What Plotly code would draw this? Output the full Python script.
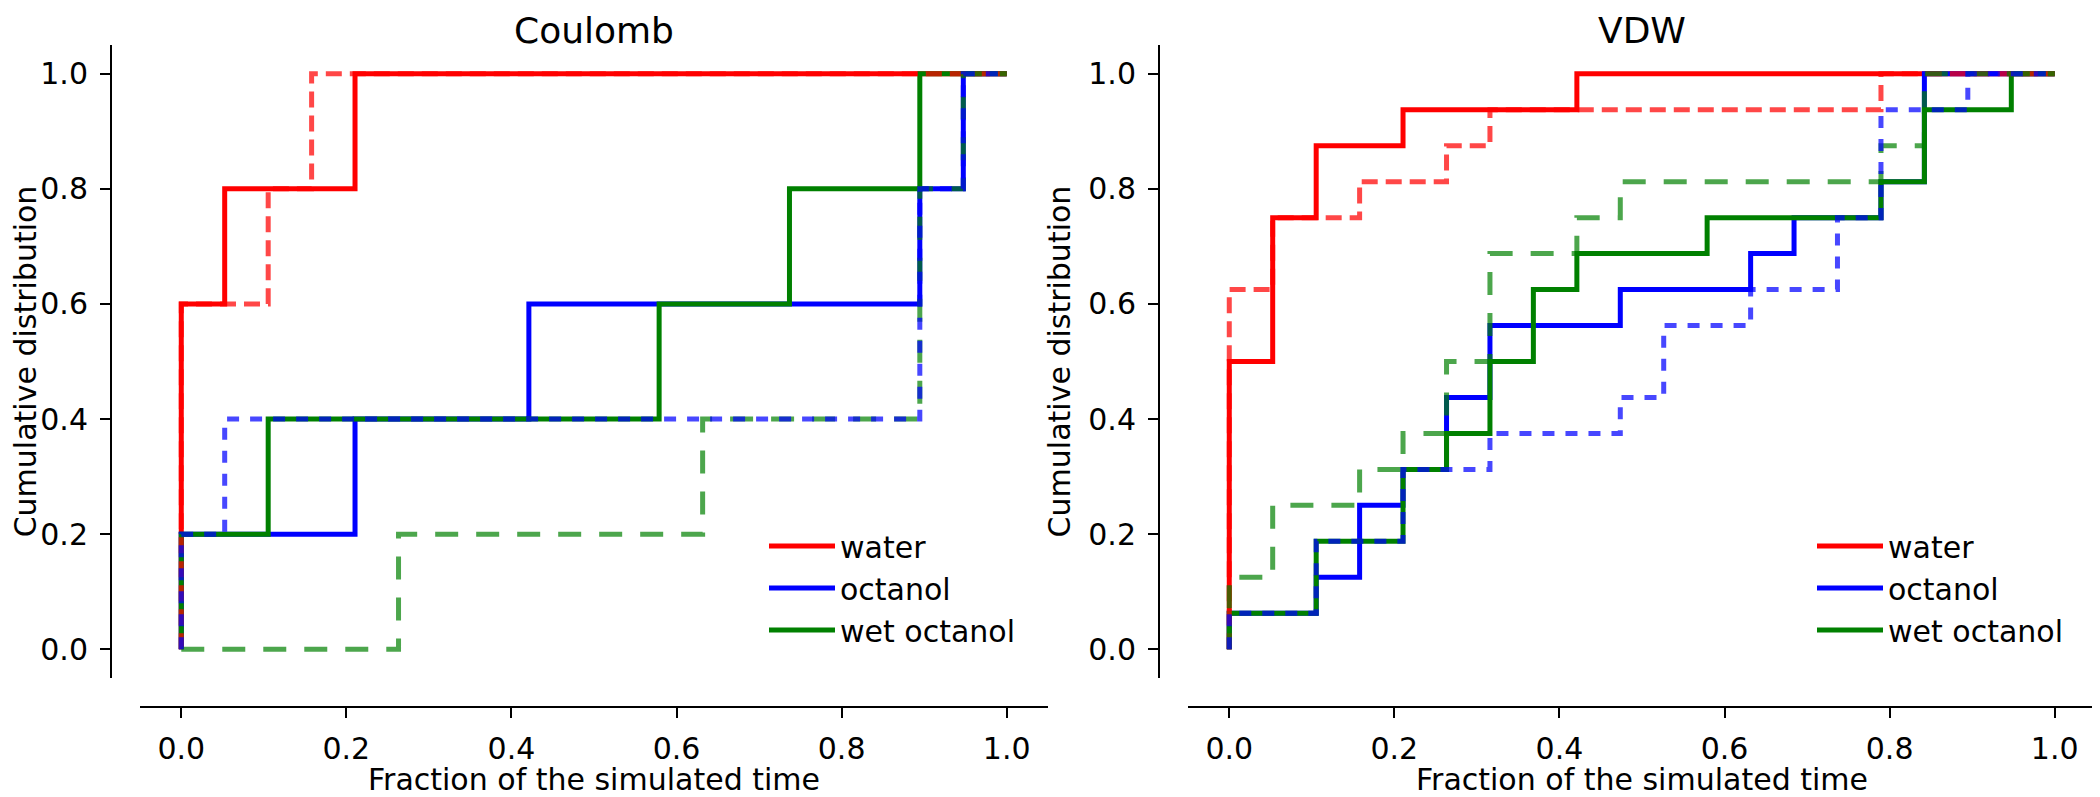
import plotly.graph_objects as go

# ---------------- data (step positions = fraction of simulated time) -------------
panels = ["Coulomb", "VDW"]
series = ["water", "octanol", "wet octanol"]
tick_vals = [0.0, 0.2, 0.4, 0.6, 0.8, 1.0]

# Coulomb panel
coul_water_x = [0, 0, 0.0526, 0.2105, 1.0]
coul_water_y = [0, 0.6, 0.8, 1.0, 1.0]
coul_water_dash_x = [0, 0, 0.1053, 0.1579, 1.0]
coul_water_dash_y = [0, 0.6, 0.8, 1.0, 1.0]
coul_oct_x = [0, 0, 0.2105, 0.4211, 0.8947, 0.9474, 1.0]
coul_oct_y = [0, 0.2, 0.4, 0.6, 0.8, 1.0, 1.0]
coul_oct_dash_x = [0, 0, 0.0526, 0.8947, 0.9474, 1.0]
coul_oct_dash_y = [0, 0.2, 0.4, 0.8, 1.0, 1.0]
coul_wet_x = [0, 0, 0.1053, 0.5789, 0.7368, 0.8947, 1.0]
coul_wet_y = [0, 0.2, 0.4, 0.6, 0.8, 1.0, 1.0]
coul_wet_dash_x = [0, 0.2632, 0.6316, 0.8947, 0.9474, 1.0]
coul_wet_dash_y = [0, 0.2, 0.4, 0.8, 1.0, 1.0]

# VDW panel
vdw_water_x = [0, 0, 0.0526, 0.1053, 0.2105, 0.4211, 1.0]
vdw_water_y = [0, 0.5, 0.75, 0.875, 0.9375, 1.0, 1.0]
vdw_water_dash_x = [0, 0, 0.0526, 0.1579, 0.2632, 0.3158, 0.7895, 1.0]
vdw_water_dash_y = [0, 0.625, 0.75, 0.8125, 0.875, 0.9375, 1.0, 1.0]
vdw_oct_x = [0, 0, 0.1053, 0.1579, 0.2105, 0.2632, 0.3158, 0.4737, 0.6316, 0.6842, 0.7895, 0.8421, 1.0]
vdw_oct_y = [0, 0.0625, 0.125, 0.25, 0.3125, 0.4375, 0.5625, 0.625, 0.6875, 0.75, 0.8125, 1.0, 1.0]
vdw_oct_dash_x = [0, 0, 0.1053, 0.2105, 0.3158, 0.4737, 0.5263, 0.6316, 0.7368, 0.7895, 0.8947, 1.0]
vdw_oct_dash_y = [0, 0.0625, 0.1875, 0.3125, 0.375, 0.4375, 0.5625, 0.625, 0.75, 0.9375, 1.0, 1.0]
vdw_wet_x = [0, 0, 0.1053, 0.2105, 0.2632, 0.3158, 0.3684, 0.4211, 0.5789, 0.7895, 0.8421, 0.9474, 1.0]
vdw_wet_y = [0, 0.0625, 0.1875, 0.3125, 0.375, 0.5, 0.625, 0.6875, 0.75, 0.8125, 0.9375, 1.0, 1.0]
vdw_wet_dash_x = [0, 0, 0.0526, 0.1579, 0.2105, 0.2632, 0.3158, 0.4211, 0.4737, 0.7895, 0.8421, 1.0]
vdw_wet_dash_y = [0, 0.125, 0.25, 0.3125, 0.375, 0.5, 0.6875, 0.75, 0.8125, 0.875, 1.0, 1.0]

# ---------------- styles ----------------
# the page body has an 8px default margin, so the figure is made 8px smaller
OFF = 8
W, H = 2100 - OFF, 797 - OFF
FONT = "DejaVu Sans"
solid_col = {"water": "#ff0000", "octanol": "#0000ff", "wet octanol": "#008000"}
dash_col = {"water": "rgba(255,0,0,0.72)", "octanol": "rgba(0,0,255,0.72)",
            "wet octanol": "rgba(0,128,0,0.70)"}
dash_pat = {"water": "16px,8px", "octanol": "12px,11px", "wet octanol": "23px,18px"}
LW = 5

panel_data = {
    "Coulomb": {
        "water": (coul_water_x, coul_water_y, coul_water_dash_x, coul_water_dash_y),
        "octanol": (coul_oct_x, coul_oct_y, coul_oct_dash_x, coul_oct_dash_y),
        "wet octanol": (coul_wet_x, coul_wet_y, coul_wet_dash_x, coul_wet_dash_y),
    },
    "VDW": {
        "water": (vdw_water_x, vdw_water_y, vdw_water_dash_x, vdw_water_dash_y),
        "octanol": (vdw_oct_x, vdw_oct_y, vdw_oct_dash_x, vdw_oct_dash_y),
        "wet octanol": (vdw_wet_x, vdw_wet_y, vdw_wet_dash_x, vdw_wet_dash_y),
    },
}

fig = go.Figure()
for i, p in enumerate(panels):
    xa = "x" if i == 0 else "x2"
    ya = "y" if i == 0 else "y2"
    lg = "legend" if i == 0 else "legend2"
    for s in series:
        sx, sy, dx, dy = panel_data[p][s]
        fig.add_trace(go.Scatter(x=sx, y=sy, mode="lines", name=s,
                                 line=dict(color=solid_col[s], width=LW, shape="hv"),
                                 xaxis=xa, yaxis=ya, legend=lg, showlegend=True,
                                 hoverinfo="skip"))
    for s in ["water", "wet octanol", "octanol"]:
        sx, sy, dx, dy = panel_data[p][s]
        fig.add_trace(go.Scatter(x=dx, y=dy, mode="lines", name=s + " (dashed)",
                                 line=dict(color=dash_col[s], width=LW, shape="hv",
                                           dash=dash_pat[s]),
                                 xaxis=xa, yaxis=ya, showlegend=False,
                                 hoverinfo="skip"))


def px_x(v):
    return (v - OFF) / W


def px_y(v):
    return 1 - (v - OFF) / H


ydom = [px_y(678), px_y(45)]
xdoms = [[px_x(140), px_x(1048)], [px_x(1188), px_x(2096)]]
yline = [px_x(111), px_x(1159)]
xline = px_y(707)

axis_common = dict(
    range=[-0.05, 1.05], showgrid=False, zeroline=False, showline=True,
    linecolor="black", linewidth=2, ticks="outside", ticklen=10, tickwidth=2,
    tickcolor="black", tickvals=tick_vals, tickformat=".1f",
    tickfont=dict(family=FONT, size=30, color="black"),
)

layout = dict(
    width=W, height=H, margin=dict(l=0, r=0, t=0, b=0),
    paper_bgcolor="white", plot_bgcolor="white",
    font=dict(family=FONT, size=30, color="black"),
)
for i in range(2):
    sfx = "" if i == 0 else "2"
    layout["xaxis" + sfx] = dict(axis_common, domain=xdoms[i], anchor="free",
                                 position=xline, ticklabelstandoff=5,
                                 title=dict(text="Fraction of the simulated time",
                                            font=dict(family=FONT, size=30, color="black"),
                                            standoff=2))
    layout["yaxis" + sfx] = dict(axis_common, domain=ydom, anchor="free",
                                 position=yline[i], ticklabelstandoff=6,
                                 title=dict(text="Cumulative distribution",
                                            font=dict(family=FONT, size=30, color="black"),
                                            standoff=8))

leg_common = dict(font=dict(family=FONT, size=30, color="black"),
                  bgcolor="rgba(0,0,0,0)", borderwidth=0, itemwidth=66,
                  xanchor="left", yanchor="top", tracegroupgap=0)
layout["legend"] = dict(leg_common, x=px_x(764), y=px_y(520))
layout["legend2"] = dict(leg_common, x=px_x(1812), y=px_y(520))

fig.update_layout(**layout)

titles_cx = [(140 + 1048) / 2, (1188 + 2096) / 2]
for i, p in enumerate(panels):
    fig.add_annotation(text=p, x=px_x(titles_cx[i]), y=px_y(31), xref="paper",
                       yref="paper", showarrow=False, xanchor="center",
                       yanchor="middle", font=dict(family=FONT, size=36, color="black"))

fig.write_html("out.html")
